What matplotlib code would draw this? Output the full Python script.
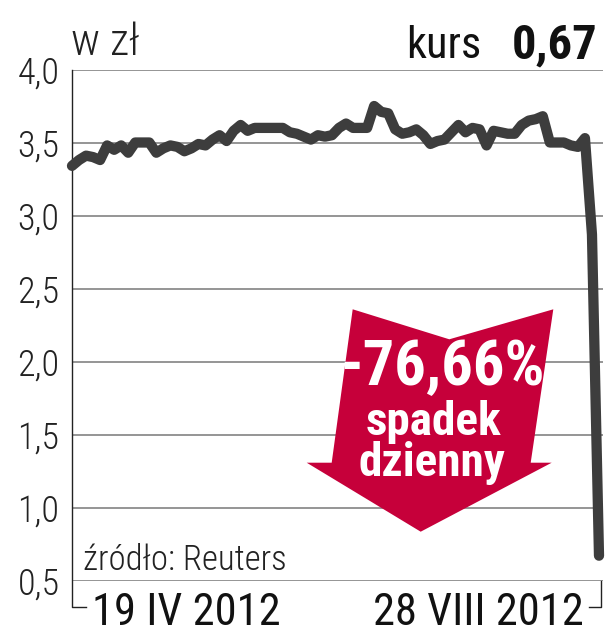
import matplotlib
matplotlib.use('Agg')
import matplotlib.pyplot as plt
from matplotlib import font_manager
from matplotlib.patches import Polygon

# kurs akcji, dzienne zamkniecia 19 IV - 28 VIII 2012 (w zl)
kurs = [3.34, 3.38, 3.41, 3.40, 3.38, 3.48, 3.45, 3.48, 3.43, 3.50,
        3.50, 3.50, 3.43, 3.46, 3.48, 3.47, 3.44, 3.46, 3.49, 3.48,
        3.52, 3.55, 3.51, 3.58, 3.62, 3.58, 3.60, 3.60, 3.60, 3.60,
        3.60, 3.57, 3.56, 3.54, 3.52, 3.55, 3.54, 3.55, 3.60, 3.63,
        3.60, 3.60, 3.60, 3.75, 3.71, 3.70, 3.59, 3.56, 3.57, 3.59,
        3.55, 3.49, 3.51, 3.52, 3.57, 3.62, 3.57, 3.60, 3.59, 3.48,
        3.58, 3.57, 3.56, 3.56, 3.62, 3.65, 3.66, 3.68, 3.50, 3.50,
        3.50, 3.48, 3.47, 3.53, 2.87, 0.67]
y_ticks = [0.5, 1.0, 1.5, 2.0, 2.5, 3.0, 3.5, 4.0]
y_labels = ['0,5', '1,0', '1,5', '2,0', '2,5', '3,0', '3,5', '4,0']
date_start = '19 IV 2012'
date_end = '28 VIII 2012'
kurs_now = '0,67'
zmiana = '-76,66%'


def pick_font(names):
    for n in names:
        try:
            font_manager.findfont(n, fallback_to_default=False)
            return n
        except Exception:
            pass
    return 'DejaVu Sans'


font = pick_font(['Liberation Sans Narrow', 'Roboto Condensed', 'Roboto'])
plt.rcParams['font.family'] = [font, 'DejaVu Sans']

W, H = 605, 640
fig = plt.figure(figsize=(W / 100, H / 100), dpi=100)
ax = fig.add_axes([72 / W, 1 - 580.5 / H, 531 / W, 511 / H])

dark = '#3d3d3d'
grid = '#8c8c8c'
red = '#c6003a'

x = list(range(len(kurs)))
ax.plot(x, kurs, color=dark, lw=7.4, solid_joinstyle='round',
        solid_capstyle='round', zorder=5, clip_on=False)

ax.set_xlim(0, len(kurs) - 1 + 0.57)
ax.set_ylim(0.5, 4.0)
ax.set_yticks(y_ticks)
ax.set_yticklabels(y_labels, fontsize=26, fontweight='light', color='#222222')
ax.set_xticks([])
ax.tick_params(axis='y', length=0, pad=9)
ax.grid(axis='y', color=grid, lw=1.3, zorder=0)
for s in ['top', 'right', 'bottom', 'left']:
    ax.spines[s].set_visible(False)

# os pionowa i klamry pod osia
ax.plot([0, 0, 0.026], [1, -0.052, -0.052], color='#222222', lw=1.0,
        transform=ax.transAxes, clip_on=False)
ax.plot([0.974, 0.997, 0.997], [-0.052, -0.052, 0.0], color='#222222', lw=1.0,
        transform=ax.transAxes, clip_on=False)

# czerwona strzalka
arrow_px = [(352.7, 309.3), (449.3, 339.3), (553.3, 309.3), (530.7, 462.7),
            (551.7, 462.7), (420.7, 531.7), (306.7, 462.7), (331.7, 462.7)]
arrow = Polygon([(px / W, 1 - py / H) for px, py in arrow_px], closed=True,
                facecolor=red, edgecolor='none', transform=fig.transFigure,
                zorder=3)
ax.add_patch(arrow)
fig.text(442 / W, 1 - 368 / H, zmiana, color='white', fontsize=45,
         fontweight='bold', ha='center', va='center', zorder=6)
fig.text(433 / W, 1 - 422 / H, 'spadek', color='white', fontsize=34,
         fontweight='bold', ha='center', va='center', zorder=6)
fig.text(432 / W, 1 - 463 / H, 'dzienny', color='white', fontsize=34,
         fontweight='bold', ha='center', va='center', zorder=6)

# napisy
fig.text(71 / W, 1 - 55 / H, 'w zł', fontsize=32, fontweight='light',
         color='#222222', ha='left', va='baseline')
fig.text(598 / W, 1 - 58 / H, kurs_now, fontsize=35, fontweight='bold',
         color='#111111', ha='right', va='baseline')
fig.text(481 / W, 1 - 58 / H, 'kurs', fontsize=32, color='#111111',
         ha='right', va='baseline')
fig.text(83 / W, 1 - 570 / H, 'źródło: Reuters', fontsize=25,
         fontweight='light', color='#222222', ha='left', va='baseline')
fig.text(92 / W, 1 - 625 / H, date_start, fontsize=32, color='#111111',
         ha='left', va='baseline')
fig.text(584 / W, 1 - 625 / H, date_end, fontsize=32, color='#111111',
         ha='right', va='baseline')

fig.savefig('out.png', dpi=100, facecolor='white')
